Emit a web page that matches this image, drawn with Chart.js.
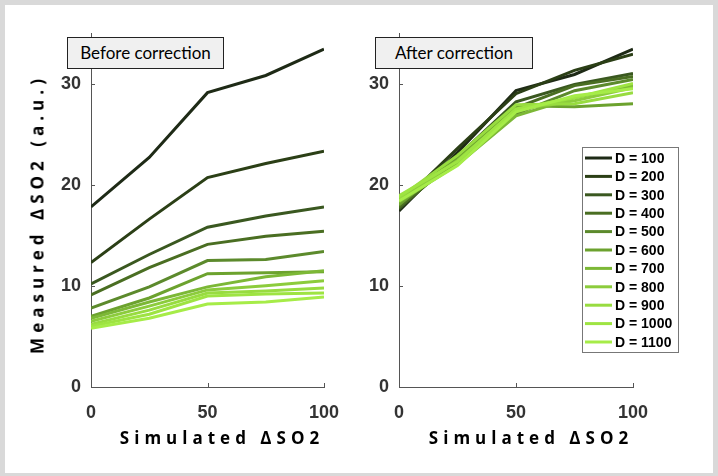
<!DOCTYPE html>
<html>
<head>
<meta charset="utf-8">
<script src="https://cdn.jsdelivr.net/npm/chart.js@4.4.1/dist/chart.umd.min.js"></script>
<style>
  body { margin: 0; background: #d9d9d9; }
  #wrap { position: relative; width: 718px; height: 476px; overflow: hidden; }
  #frame { position: absolute; left: 5px; top: 5px; width: 708px; height: 468px; background: #fff; }
  canvas { position: absolute; left: 0; top: 0; }
  .box { position: absolute; top: 37px; height: 30px; background: #f0f0f0; border: 1px solid #222;
         font: 17px Lato, sans-serif; line-height: 30px; text-align: center; color: #000; }
  .xt { position: absolute; top: 426px; width: 260px; text-align: center;
        font: bold 17px "Open Sans", sans-serif; letter-spacing: 5px; color: #000; }
  .yt { position: absolute; left: 37px; top: 214px; width: 320px; text-align: center; white-space: nowrap;
        font: bold 17px "Open Sans", sans-serif; letter-spacing: 5px; color: #000;
        transform: translate(-50%, -50%) rotate(-90deg); }
</style>
</head>
<body>
<div id="wrap">
  <div id="frame"></div>
  <canvas id="before" width="718" height="476"></canvas>
  <canvas id="after" width="718" height="476"></canvas>
  <div class="box" style="left:67px;width:155px;">Before correction</div>
  <div class="box" style="left:375px;width:156px;">After correction</div>
  <div class="xt" style="left:92px;">Simulated ΔSO2</div>
  <div class="xt" style="left:401px;">Simulated ΔSO2</div>
  <div class="yt">Measured ΔSO2 (a.u.)</div>
</div>
<script>
// simulated dSO2 values (x)
const simulated = [0, 25, 50, 75, 100];
const depths = ["D = 100", "D = 200", "D = 300", "D = 400", "D = 500", "D = 600",
                "D = 700", "D = 800", "D = 900", "D = 1000", "D = 1100"];
const colores = ["#1e2a16", "#2b3f16", "#3a5820", "#4a6e22", "#5c8a2c", "#6ca22e",
                 "#7cb836", "#8ccc3c", "#98dc40", "#9ee442", "#a6ec48"];
const xTicks = [0, 50, 100];
const yTicks = [0, 10, 20, 30];

// before correction, one row per D
const antes = [
    [17.8, 22.7, 29.1, 30.8, 33.4],
    [12.3, 16.6, 20.7, 22.1, 23.3],
    [10.2, 13.1, 15.8, 16.9, 17.8],
    [9.1, 11.8, 14.1, 14.9, 15.4],
    [7.8, 9.9, 12.5, 12.6, 13.4],
    [7.0, 8.8, 11.2, 11.3, 11.4],
    [6.8, 8.4, 9.9, 10.9, 11.5],
    [6.5, 8.0, 9.6, 10.0, 10.5],
    [6.2, 7.6, 9.3, 9.5, 9.8],
    [6.0, 7.2, 9.0, 9.2, 9.3],
    [5.8, 6.8, 8.2, 8.4, 8.9]
];

// after correction
const despues = [
    [17.4, 23.2, 29.3, 30.9, 33.4],
    [18.0, 23.6, 29.0, 31.3, 32.9],
    [17.6, 22.8, 28.2, 29.9, 31.0],
    [17.8, 22.5, 27.6, 29.8, 30.7],
    [18.2, 22.2, 27.0, 29.3, 30.4],
    [18.0, 22.7, 27.8, 27.7, 28.0],
    [18.3, 22.0, 26.8, 28.6, 29.8],
    [18.5, 22.4, 27.4, 28.3, 29.6],
    [18.7, 22.9, 27.9, 28.0, 29.1],
    [18.9, 22.3, 27.5, 28.6, 30.0],
    [18.4, 21.9, 27.2, 28.8, 29.5]
];

Chart.defaults.font.family = "'Liberation Sans', Arial, sans-serif";

// MATLAB style ticks pointing into the plot
const tickMarks = {
    id: "tickMarks",
    afterDraw(chart) {
        const { ctx, chartArea, scales } = chart;
        ctx.save();
        ctx.strokeStyle = "#555";
        ctx.lineWidth = 1;
        ctx.beginPath();
        scales.x.ticks.forEach(t => {
            const px = Math.round(scales.x.getPixelForValue(t.value)) + 0.5;
            ctx.moveTo(px, chartArea.bottom);
            ctx.lineTo(px, chartArea.bottom - 4);
        });
        scales.y.ticks.forEach(t => {
            const py = Math.round(scales.y.getPixelForValue(t.value)) + 0.5;
            ctx.moveTo(chartArea.left, py);
            ctx.lineTo(chartArea.left + 4, py);
        });
        ctx.stroke();
        ctx.restore();
    }
};

// boxed legend inside the right plot
const boxLegend = {
    id: "boxLegend",
    afterDraw(chart, args, opts) {
        if (!opts.show) return;
        const ctx = chart.ctx;
        ctx.save();
        ctx.fillStyle = "#fff";
        ctx.fillRect(opts.x, opts.y, opts.w, opts.h);
        ctx.strokeStyle = "#777";
        ctx.lineWidth = 1;
        ctx.strokeRect(opts.x + 0.5, opts.y + 0.5, opts.w, opts.h);
        ctx.font = "bold 14px 'Liberation Sans', Arial, sans-serif";
        ctx.textBaseline = "middle";
        chart.data.datasets.forEach((ds, i) => {
            const cy = opts.y + 11 + i * opts.row;
            ctx.strokeStyle = ds.borderColor;
            ctx.lineWidth = 3;
            ctx.beginPath();
            ctx.moveTo(opts.x + 3, cy);
            ctx.lineTo(opts.x + 30, cy);
            ctx.stroke();
            ctx.fillStyle = "#000";
            ctx.fillText(ds.label, opts.x + 33, cy + 1);
        });
        ctx.restore();
    }
};

function crearGrafica(id, filas, padding, conLeyenda) {
    const datasets = filas.map((fila, i) => ({
        label: depths[i],
        data: fila.map((v, j) => ({ x: simulated[j], y: v })),
        borderColor: colores[i],
        borderWidth: 3,
        pointRadius: 0,
        tension: 0,
        order: filas.length - i
    }));

    return new Chart(document.getElementById(id), {
        type: "line",
        data: { datasets },
        plugins: [tickMarks, boxLegend],
        options: {
            responsive: false,
            animation: false,
            devicePixelRatio: 1,
            layout: { padding },
            plugins: {
                legend: { display: false },
                tooltip: { enabled: false },
                boxLegend: { show: conLeyenda, x: 582, y: 147, w: 96, h: 205, row: 18.4 }
            },
            scales: {
                x: {
                    type: "linear",
                    min: 0, max: 100,
                    afterFit: s => { s.height = 40; },
                    afterBuildTicks: s => { s.ticks = xTicks.map(v => ({ value: v })); },
                    grid: { drawOnChartArea: false, drawTicks: false },
                    border: { color: "#555", width: 1 },
                    ticks: { padding: 15, color: "#333", maxRotation: 0,
                             font: { size: 18, weight: "bold" } }
                },
                y: {
                    min: 0, max: 35,
                    afterFit: s => { s.width = 40; },
                    afterBuildTicks: s => { s.ticks = yTicks.map(v => ({ value: v })); },
                    grid: { drawOnChartArea: false, drawTicks: false },
                    border: { color: "#555", width: 1 },
                    ticks: { padding: 10, color: "#333",
                             font: { size: 18, weight: "bold" } }
                }
            }
        }
    });
}

crearGrafica("before", antes, { left: 51, right: 394, top: 33, bottom: 49 }, false);
crearGrafica("after", despues, { left: 359, right: 85, top: 33, bottom: 49 }, true);
</script>
</body>
</html>
